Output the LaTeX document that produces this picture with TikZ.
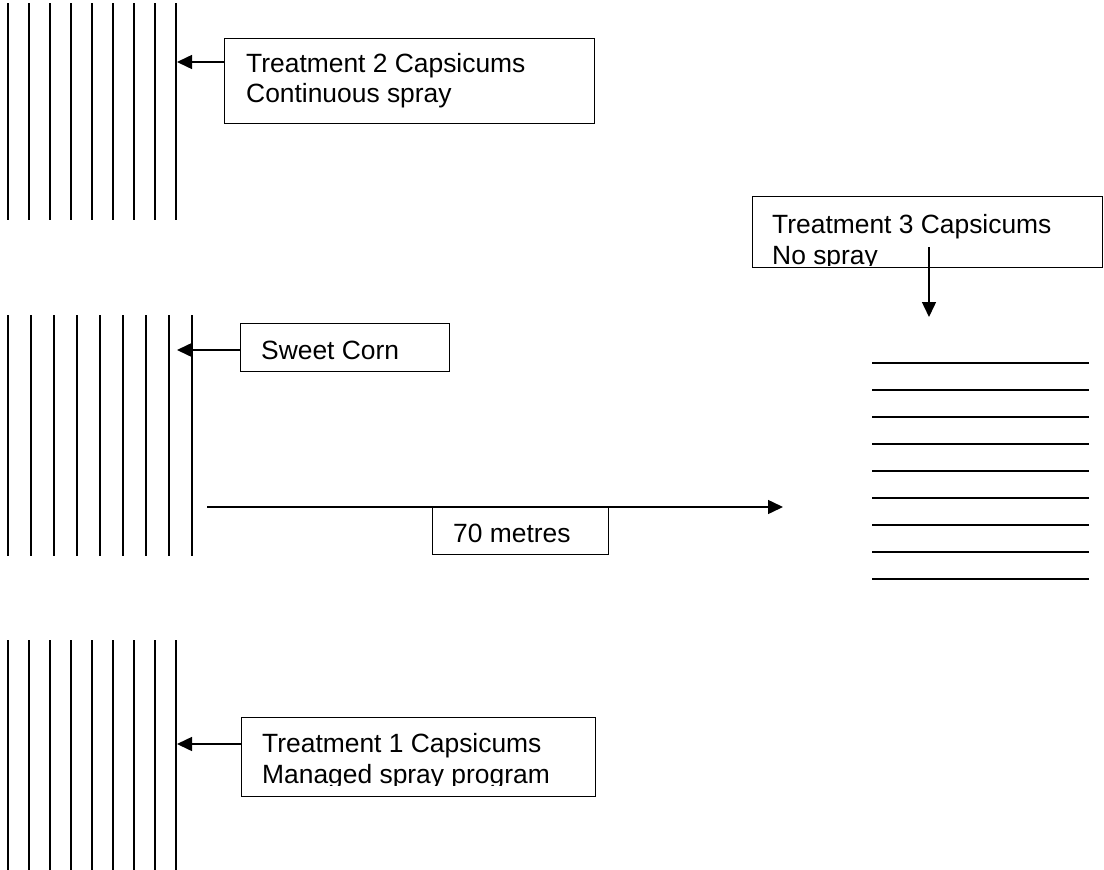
\documentclass[tikz,border=0pt]{standalone}
\usepackage{fontspec}
\setmainfont{Liberation Sans}
\usetikzlibrary{arrows.meta}
\begin{document}
\begin{tikzpicture}[x=1pt,y=-1pt,
  row/.style={line width=1.5pt},
  bed/.style={line width=2.2pt},
  boxstyle/.style={draw,line width=1.4pt,inner sep=0pt,anchor=north west},
  lbl/.style={anchor=base west,inner sep=0pt,font=\fontsize{26.4}{30}\selectfont},
  arr/.style={line width=1.5pt,-{Triangle[length=15pt,width=14pt]}}]
\useasboundingbox (0,0) rectangle (1104,870);

% plant rows
\foreach \x in {8,29,...,176} \draw[row] (\x,3) -- (\x,220);
\foreach \x in {8,31,...,192} \draw[row] (\x,315) -- (\x,556);
\foreach \x in {8,29,...,176} \draw[row] (\x,640) -- (\x,870);
\foreach \y in {363,390,...,579} \draw[bed] (872,\y) -- (1089,\y);

% Treatment 2
\node[boxstyle,minimum width=370pt,minimum height=85pt] (box2) at (224,38) {};
\node[lbl] (l2a) at (246,72) {Treatment 2 Capsicums};
\node[lbl] (l2b) at (246,102) {Continuous spray};
\coordinate (t2) at (177,62);
\draw[arr] (box2.west |- t2) -- (t2);

% Sweet corn
\node[boxstyle,minimum width=209pt,minimum height=48pt] (boxc) at (240,323) {};
\node[lbl] (lc) at (261,359) {Sweet Corn};
\coordinate (tc) at (177,350);
\draw[arr] (boxc.west |- tc) -- (tc);

% distance
\coordinate (d0) at (207,507);
\coordinate (d1) at (783,507);
\draw[arr] (d0) -- (d1);
\node[boxstyle,minimum width=176pt,minimum height=47pt] (boxd) at (432,507) {};
\node[lbl] (ld) at (453,542) {70 metres};

% Treatment 3
\node[boxstyle,minimum width=350pt,minimum height=71pt] (box3) at (752,196) {};
\begin{scope}
\clip (752,196) rectangle (1103,265.5);
\node[lbl] (l3a) at (772,233) {Treatment 3 Capsicums};
\node[lbl] (l3b) at (772,264) {No spray};
\end{scope}
\coordinate (t3s) at (929,247);
\coordinate (t3e) at (929,317);
\draw[arr] (t3s) -- (t3e);

% Treatment 1
\node[boxstyle,minimum width=354pt,minimum height=79pt] (box1) at (241,717) {};
\begin{scope}
\clip (241,717) rectangle (595,785);
\node[lbl] (l1a) at (262,752) {Treatment 1 Capsicums};
\node[lbl] (l1b) at (262,783) {Managed spray program};
\end{scope}
\coordinate (t1) at (177,744);
\draw[arr] (box1.west |- t1) -- (t1);
\end{tikzpicture}
\end{document}
